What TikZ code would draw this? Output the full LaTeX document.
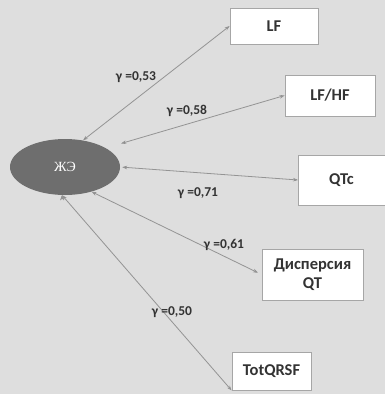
\documentclass[tikz,border=0pt]{standalone}
\usepackage{fontspec}
\setmainfont{Carlito}
\newfontfamily\serifcyr{Liberation Serif}
\usetikzlibrary{shapes.geometric, arrows.meta}
\definecolor{bggray}{rgb}{0.87,0.87,0.87}
\definecolor{ovalgray}{rgb}{0.43,0.43,0.43}
\definecolor{linegray}{rgb}{0.58,0.58,0.58}
\definecolor{textgray}{rgb}{0.2,0.2,0.2}
\tikzset{
    x=1pt, y=-1pt, % Pixel-like units, y downwards
    every node/.style={font=\bfseries\fontsize{16.5}{19}\selectfont, text=textgray},
    box/.style={draw=gray!70, fill=white, line width=0.8pt, align=center, inner sep=2pt}, % Factor boxes
    link/.style={<->, draw=linegray, line width=0.8pt}, % Correlation links
}

\begin{document}
\begin{tikzpicture}[
    >={Stealth[length=5pt, width=3.5pt]},
    % Label for the correlation value
    lab/.style={font=\bfseries\fontsize{13.5}{15}\selectfont, inner sep=0pt}
]
    \useasboundingbox (0,0) rectangle (385,394);
    \clip (0,0) rectangle (385,394);
    \fill[bggray] (0,0) rectangle (385,394);

    % --- Nodes ---
    \node[ellipse, fill=ovalgray, minimum width=110pt, minimum height=56pt,
          font=\serifcyr\fontsize{14}{16}\selectfont, text=white] (zho) at (65,167) {ЖЭ};

    \node[box, minimum width=88pt, minimum height=36pt] (lf) at (274,26) {LF};
    \node[box, minimum width=90pt, minimum height=41pt] (lfhf) at (330,95.5) {LF/HF};
    \node[box, minimum width=96pt, minimum height=50pt, anchor=west] (qtc) at (298,180) {QTc\hspace{10pt}};
    \node[box, minimum width=101pt, minimum height=51pt] (disp) at (312.5,274.5) {Дисперсия\\QT};
    \node[box, minimum width=79pt, minimum height=38pt] (tot) at (271.5,371) {TotQRSF};

    % --- Links ---
    \path[link]
        (zho.56)   edge (lf.west)
        (zho.25)   edge [shorten <=16pt] (lfhf.west)
        (zho.east) edge [shorten <=2pt] (qtc.west)
        (zho.-43)  edge [shorten >=4pt] (disp.west)
        (zho.-96)  edge (tot.south west);

    % --- Correlation values ---
    \node[lab] (r1) at (136,77)  {γ =0,53};
    \node[lab] (r2) at (187,111) {γ =0,58};
    \node[lab] (r3) at (198,193) {γ =0,71};
    \node[lab] (r4) at (224,245) {γ =0,61};
    \node[lab] (r5) at (172,312) {γ =0,50};

\end{tikzpicture}
\end{document}
